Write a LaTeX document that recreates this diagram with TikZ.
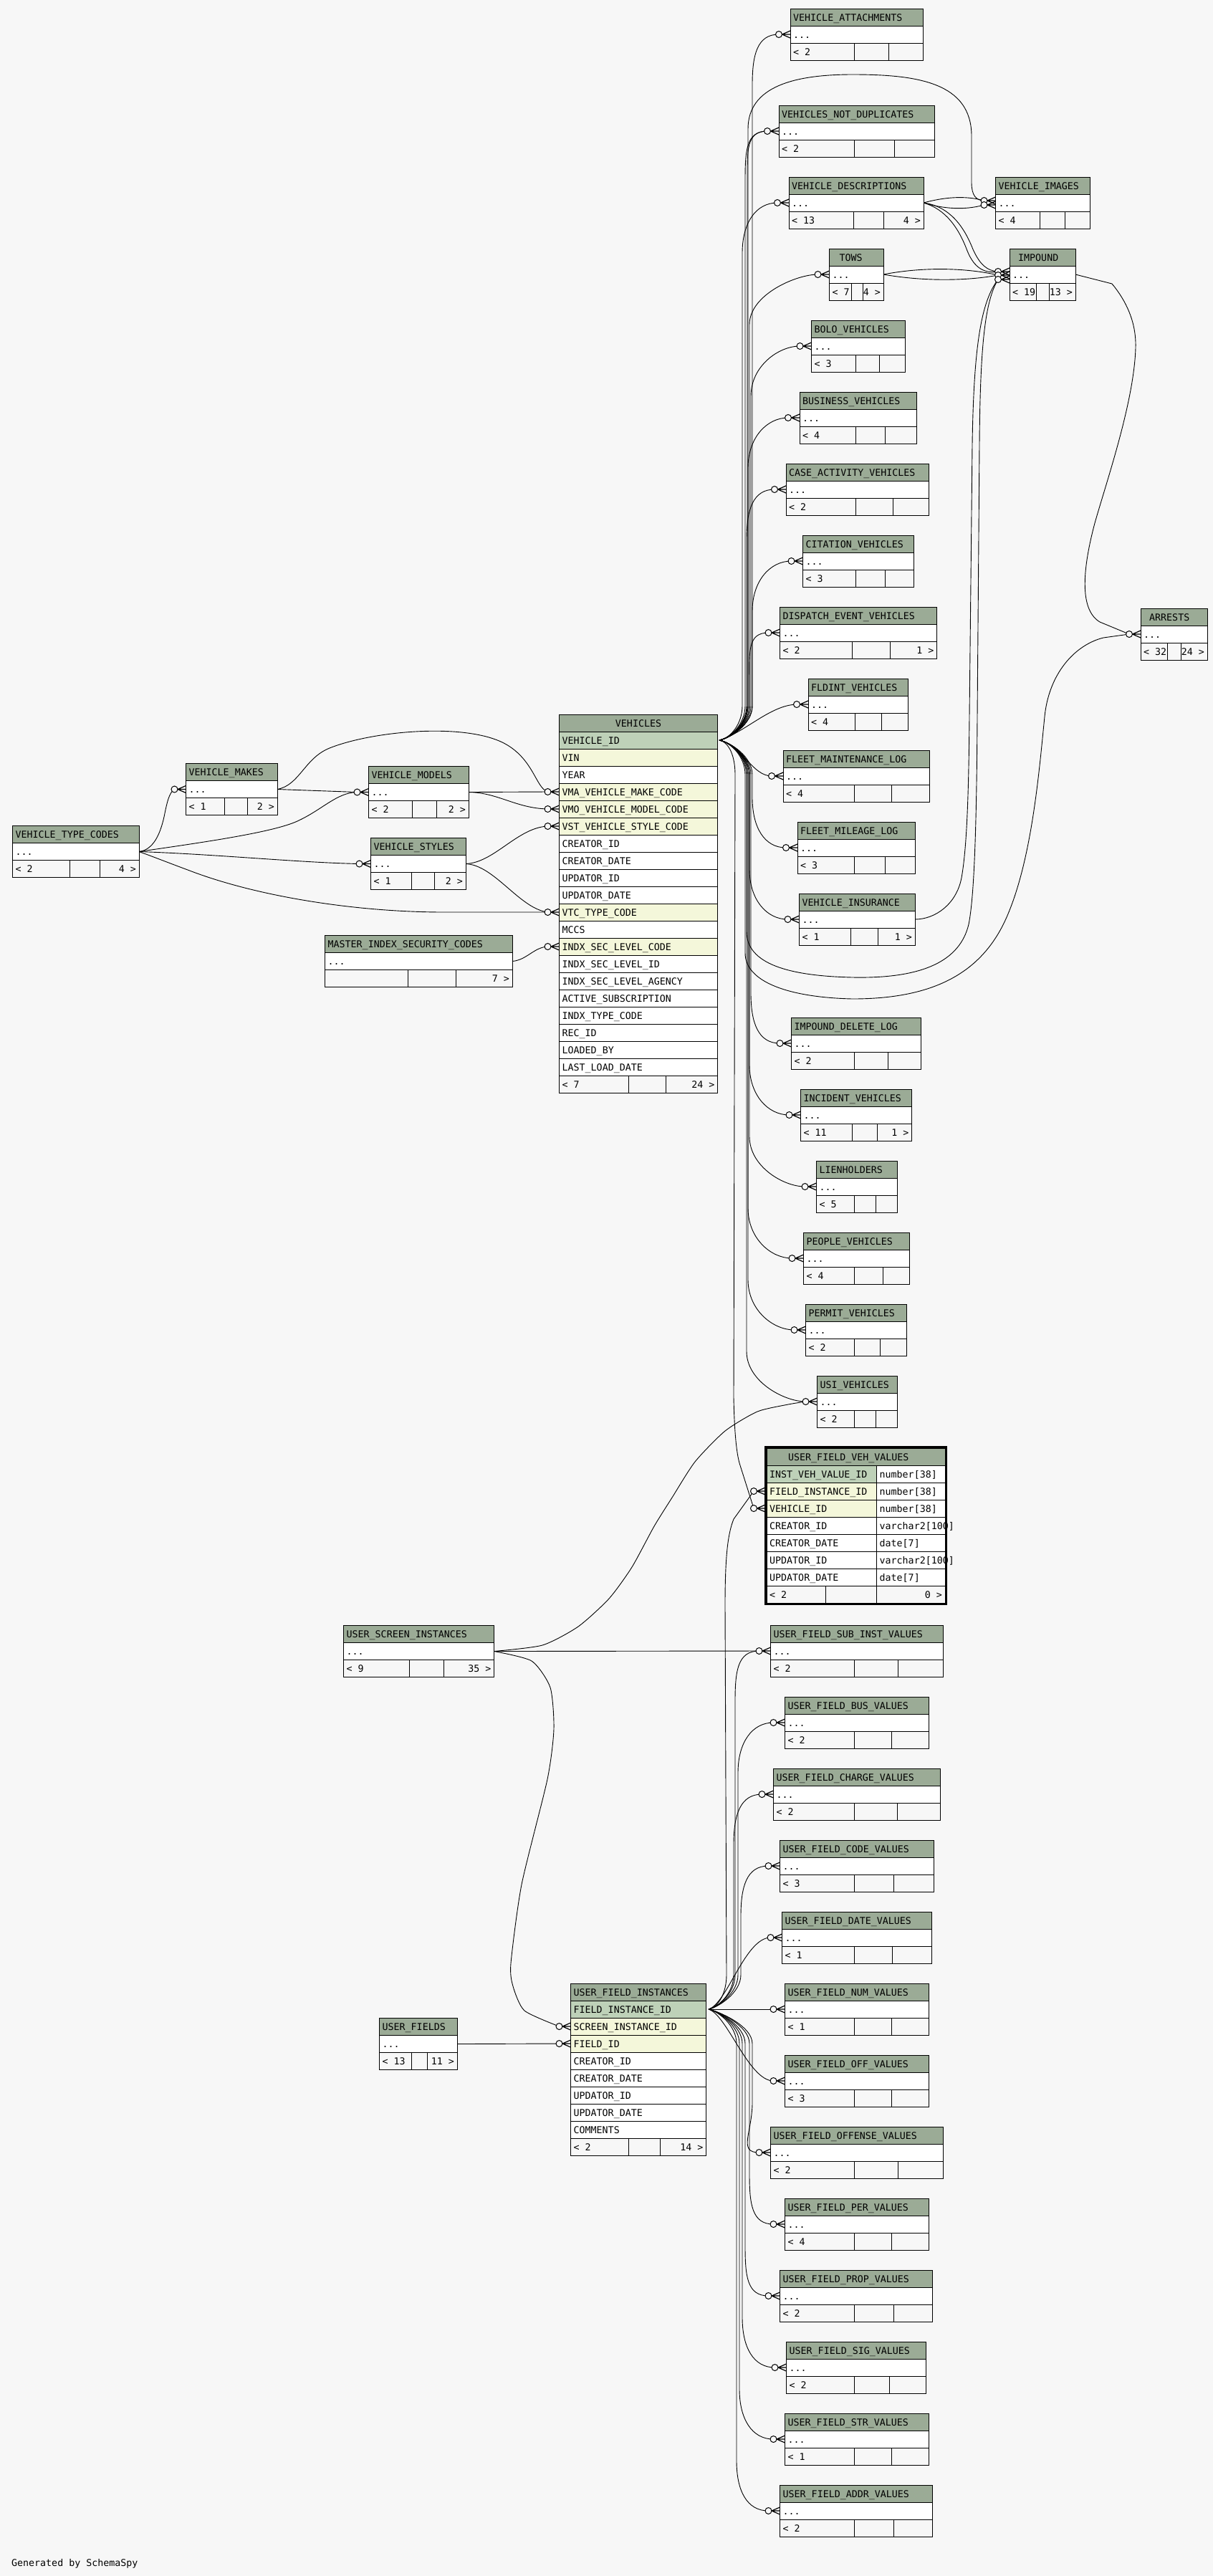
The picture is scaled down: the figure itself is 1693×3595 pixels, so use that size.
\documentclass[tikz,border=0pt]{standalone}
\usepackage{fontspec}
\usetikzlibrary{calc}
\newfontfamily\dvmono{DejaVu Sans Mono}
\newcommand\tabfnt{\dvmono\fontsize{13.3pt}{16pt}\selectfont}
\definecolor{bg}{HTML}{F7F7F7}
\definecolor{hdr}{HTML}{9BAB96}
\definecolor{pk}{HTML}{BED1B8}
\definecolor{idx}{HTML}{F4F7DA}
\pgfdeclarelayer{bglayer}
\pgfdeclarelayer{edgelayer}
\pgfsetlayers{bglayer,edgelayer,main}
\tikzset{
 cell/.style={anchor=base west, inner sep=0pt, font=\tabfnt},
 cellr/.style={anchor=base east, inner sep=0pt, font=\tabfnt},
 cellc/.style={anchor=base, inner sep=0pt, font=\tabfnt},
 box/.style={draw=black, line width=1pt},
 rel/.style={draw=black, line width=0.9pt},
 crowl/.style={draw=black, line width=1.2pt},
 ring/.style={draw=black, fill=bg, line width=1pt},
}
% name xl xr yt label d1 d2 footleft footright
\newcommand\smalltab[9]{%
 \path[box,fill=hdr] (#2,#4) rectangle (#3,{#4+24});
 \node[cell] (#1-h) at ({#2+4},{#4+17.3}) {#5};
 \path[box,fill=white] (#2,{#4+24}) rectangle (#3,{#4+48});
 \node[cell] (#1-r) at ({#2+4},{#4+41.3}) {...};
 \path[box,fill=bg] (#2,{#4+48}) rectangle (#3,{#4+72});
 \draw[box] (#6,{#4+48}) -- (#6,{#4+72}) (#7,{#4+48}) -- (#7,{#4+72});
 \node[cell] (#1-fl) at ({#2+4},{#4+65.3}) {#8};
 \node[cellr] (#1-fr) at ({#3-4},{#4+65.3}) {#9};
 \coordinate (#1-w) at (#2,{#4+36});
 \coordinate (#1-e) at (#3,{#4+36});
 \coordinate (#1-c) at ({#2-16},{#4+36});
}
\newcommand\crowmark[1]{%
 \draw[crowl] ($(#1-w)+(-11.5,0)$) -- ($(#1-w)+(0,-5)$)
   ($(#1-w)+(-11.5,0)$) -- (#1-w)
   ($(#1-w)+(-11.5,0)$) -- ($(#1-w)+(0,5)$);
 \draw[ring] ($(#1-w)+(-16,0)$) circle[radius=4.5pt];
}
\newcommand\vupedge[3]{\draw[rel] (veh-src) .. controls +(16,-3) and +(0,25) .. (#2,985) -- (#2,{#3+70}) .. controls +(0,-42) and +(-30,0) .. (#1-c);}
\newcommand\vdnedge[3]{\draw[rel] (veh-src) .. controls +(16,3) and +(0,-25) .. (#2,1081) -- (#2,{#3-70}) .. controls +(0,42) and +(-30,0) .. (#1-c);}
\newcommand\fupedge[3]{\draw[rel] (ufi-src) .. controls +(14,-3) and +(0,25) .. (#2,2756) -- (#2,{#3+70}) .. controls +(0,-42) and +(-30,0) .. (#1-c);}
\newcommand\fdnedge[3]{\draw[rel] (ufi-src) .. controls +(14,3) and +(0,-25) .. (#2,2852) -- (#2,{#3-70}) .. controls +(0,42) and +(-30,0) .. (#1-c);}
\begin{document}
\begin{tikzpicture}[x=1pt,y=-1pt]
\begin{pgfonlayer}{bglayer}
\path[fill=bg] (0,0) rectangle (1693,3595);
\end{pgfonlayer}
\path[use as bounding box] (0,0) rectangle (1693,3595);

% ---------- small tables ----------
\smalltab{vatt}{1103}{1288}{12}{VEHICLE\_ATTACHMENTS}{1192}{1240}{< 2}{}
\smalltab{vnd}{1087}{1304}{147}{VEHICLES\_NOT\_DUPLICATES}{1192}{1248}{< 2}{}
\smalltab{vdesc}{1101}{1289}{247}{VEHICLE\_DESCRIPTIONS}{1191.5}{1233}{< 13}{4 >}
\smalltab{vimg}{1389.5}{1521.5}{247}{VEHICLE\_IMAGES}{1451.5}{1486.5}{< 4}{}
\smalltab{tows}{1157.5}{1233}{347}{\hspace*{10pt}TOWS}{1188}{1204.5}{< 7}{4 >}
\smalltab{impound}{1409}{1501}{347}{\hspace*{8pt}IMPOUND}{1446.5}{1464}{< 19}{13 >}
\smalltab{bolo}{1132.5}{1263.5}{447}{BOLO\_VEHICLES}{1194}{1227.5}{< 3}{}
\smalltab{business}{1116}{1279.5}{547}{BUSINESS\_VEHICLES}{1194}{1235.5}{< 4}{}
\smalltab{case}{1097}{1296.5}{647}{CASE\_ACTIVITY\_VEHICLES}{1194}{1246}{< 2}{}
\smalltab{citation}{1120.5}{1275.5}{747}{CITATION\_VEHICLES}{1194}{1235}{< 3}{}
\smalltab{dispatch}{1088.5}{1307.5}{847}{DISPATCH\_EVENT\_VEHICLES}{1189.5}{1242}{< 2}{1 >}
\smalltab{fldint}{1128}{1267.5}{947}{FLDINT\_VEHICLES}{1193}{1230}{< 4}{}
\smalltab{fmaint}{1093}{1297.5}{1047}{FLEET\_MAINTENANCE\_LOG}{1192.5}{1244.5}{< 4}{}
\smalltab{fmile}{1113}{1277.5}{1147}{FLEET\_MILEAGE\_LOG}{1192.5}{1235.5}{< 3}{}
\smalltab{vins}{1115.5}{1277}{1247}{VEHICLE\_INSURANCE}{1187.5}{1225.5}{< 1}{1 >}
\smalltab{impdel}{1104.5}{1285.5}{1420}{IMPOUND\_DELETE\_LOG}{1192.5}{1239.5}{< 2}{}
\smalltab{incident}{1117.5}{1272.5}{1520}{INCIDENT\_VEHICLES}{1189.5}{1224.5}{< 11}{1 >}
\smalltab{lien}{1139.5}{1252}{1620}{LIENHOLDERS}{1192.5}{1222}{< 5}{}
\smalltab{people}{1121.5}{1269.5}{1720}{PEOPLE\_VEHICLES}{1192.5}{1232}{< 4}{}
\smalltab{permit}{1124.5}{1265.5}{1820}{PERMIT\_VEHICLES}{1192.5}{1228}{< 2}{}
\smalltab{usi}{1140.5}{1252}{1920}{USI\_VEHICLES}{1192.5}{1222}{< 2}{}
\smalltab{arrests}{1592}{1685}{849}{\hspace*{8pt}ARRESTS}{1629.5}{1648}{< 32}{24 >}

\smalltab{ufsub}{1075.5}{1316.5}{2268}{USER\_FIELD\_SUB\_INST\_VALUES}{1192.5}{1253.5}{< 2}{}
\smalltab{ufbus}{1095.5}{1296.5}{2368}{USER\_FIELD\_BUS\_VALUES}{1192.5}{1244.5}{< 2}{}
\smalltab{ufcharge}{1079.5}{1312.5}{2468}{USER\_FIELD\_CHARGE\_VALUES}{1192.5}{1252.5}{< 2}{}
\smalltab{ufcode}{1088.5}{1303.5}{2568}{USER\_FIELD\_CODE\_VALUES}{1192.5}{1247.5}{< 3}{}
\smalltab{ufdate}{1091.5}{1300.5}{2668}{USER\_FIELD\_DATE\_VALUES}{1192.5}{1245.5}{< 1}{}
\smalltab{ufnum}{1095.5}{1296.5}{2768}{USER\_FIELD\_NUM\_VALUES}{1192.5}{1244.5}{< 1}{}
\smalltab{ufoff}{1095.5}{1296.5}{2868}{USER\_FIELD\_OFF\_VALUES}{1192.5}{1244.5}{< 3}{}
\smalltab{ufoffense}{1075.5}{1316.5}{2968}{USER\_FIELD\_OFFENSE\_VALUES}{1192.5}{1253.5}{< 2}{}
\smalltab{ufper}{1095.5}{1296.5}{3068}{USER\_FIELD\_PER\_VALUES}{1192.5}{1244.5}{< 4}{}
\smalltab{ufprop}{1088.5}{1301.5}{3168}{USER\_FIELD\_PROP\_VALUES}{1192.5}{1247.5}{< 2}{}
\smalltab{ufsig}{1097.5}{1292.5}{3268}{USER\_FIELD\_SIG\_VALUES}{1192.5}{1241.5}{< 2}{}
\smalltab{ufstr}{1095.5}{1296.5}{3368}{USER\_FIELD\_STR\_VALUES}{1192.5}{1244.5}{< 1}{}
\smalltab{ufaddr}{1088.5}{1301.5}{3468}{USER\_FIELD\_ADDR\_VALUES}{1192.5}{1247.5}{< 2}{}

\smalltab{vtc}{17.5}{194}{1152.5}{VEHICLE\_TYPE\_CODES}{97.5}{139.5}{< 2}{4 >}
\smalltab{vmakes}{259.5}{387}{1065.5}{VEHICLE\_MAKES}{313.5}{345}{< 1}{2 >}
\smalltab{vmodels}{514.5}{654}{1069.5}{VEHICLE\_MODELS}{575.5}{609.5}{< 2}{2 >}
\smalltab{vstyles}{517.5}{650}{1169.5}{VEHICLE\_STYLES}{574.5}{606.5}{< 1}{2 >}
\smalltab{misc}{453.5}{715}{1305.5}{MASTER\_INDEX\_SECURITY\_CODES}{569.5}{636}{}{7 >}
\smalltab{uscr}{479.5}{689.5}{2268.5}{USER\_SCREEN\_INSTANCES}{571.5}{619.5}{< 9}{35 >}
\smalltab{ufields}{529.5}{638}{2816.5}{USER\_FIELDS}{574.5}{596}{< 13}{11 >}

% ---------- VEHICLES ----------
\path[box,fill=hdr] (780.5,997) rectangle (1001.5,1021);
\node[cellc] (veh-h) at (891,1014.3) {VEHICLES};
\foreach \rowtxt/\rowcol [count=\i] in {VEHICLE\_ID/pk,VIN/idx,YEAR/white,VMA\_VEHICLE\_MAKE\_CODE/idx,VMO\_VEHICLE\_MODEL\_CODE/idx,VST\_VEHICLE\_STYLE\_CODE/idx,CREATOR\_ID/white,CREATOR\_DATE/white,UPDATOR\_ID/white,UPDATOR\_DATE/white,VTC\_TYPE\_CODE/idx,MCCS/white,INDX\_SEC\_LEVEL\_CODE/idx,INDX\_SEC\_LEVEL\_ID/white,INDX\_SEC\_LEVEL\_AGENCY/white,ACTIVE\_SUBSCRIPTION/white,INDX\_TYPE\_CODE/white,REC\_ID/white,LOADED\_BY/white,LAST\_LOAD\_DATE/white}{
 \path[box,fill=\rowcol] (780.5,{997+24*\i}) rectangle (1001.5,{1021+24*\i});
 \node[cell] (veh-\i) at (784.5,{1014.3+24*\i}) {\rowtxt};
}
\path[box,fill=bg] (780.5,1501) rectangle (1001.5,1525);
\draw[box] (877.5,1501) -- (877.5,1525) (929.5,1501) -- (929.5,1525);
\node[cell] (veh-fl) at (784.5,1518.3) {< 7};
\node[cellr] (veh-fr) at (997.5,1518.3) {24 >};
\coordinate (veh-src) at (1004,1033);
\coordinate (vma-w) at (780.5,1105); \coordinate (vma-c) at (764.5,1105);
\coordinate (vmo-w) at (780.5,1129); \coordinate (vmo-c) at (764.5,1129);
\coordinate (vst-w) at (780.5,1153); \coordinate (vst-c) at (764.5,1153);
\coordinate (vtcc-w) at (780.5,1273); \coordinate (vtcc-c) at (764.5,1273);
\coordinate (indx-w) at (780.5,1321); \coordinate (indx-c) at (764.5,1321);

% ---------- USER_FIELD_INSTANCES ----------
\path[box,fill=hdr] (796.5,2768) rectangle (985.5,2792);
\node[cell] (ufi-h) at (800.5,2785.3) {USER\_FIELD\_INSTANCES};
\foreach \rowtxt/\rowcol [count=\i] in {FIELD\_INSTANCE\_ID/pk,SCREEN\_INSTANCE\_ID/idx,FIELD\_ID/idx,CREATOR\_ID/white,CREATOR\_DATE/white,UPDATOR\_ID/white,UPDATOR\_DATE/white,COMMENTS/white}{
 \path[box,fill=\rowcol] (796.5,{2768+24*\i}) rectangle (985.5,{2792+24*\i});
 \node[cell] (ufi-\i) at (800.5,{2785.3+24*\i}) {\rowtxt};
}
\path[box,fill=bg] (796.5,2984) rectangle (985.5,3008);
\draw[box] (877.5,2984) -- (877.5,3008) (921.5,2984) -- (921.5,3008);
\node[cell] (ufi-fl) at (800.5,3001.3) {< 2};
\node[cellr] (ufi-fr) at (981.5,3001.3) {14 >};
\coordinate (ufi-src) at (989,2804);
\coordinate (ufisc-w) at (796.5,2828); \coordinate (ufisc-c) at (780.5,2828);
\coordinate (ufifid-w) at (796.5,2852); \coordinate (ufifid-c) at (780.5,2852);

% ---------- USER_FIELD_VEH_VALUES ----------
\path[box,fill=hdr] (1070,2021) rectangle (1319,2045);
\node[cell] (ufvv-h) at (1100,2038.3) {USER\_FIELD\_VEH\_VALUES};
\foreach \rowtxt/\rowtyp/\rowcol [count=\i] in {INST\_VEH\_VALUE\_ID/number[38]/pk,FIELD\_INSTANCE\_ID/number[38]/idx,VEHICLE\_ID/number[38]/idx,CREATOR\_ID/varchar2[100]/white,CREATOR\_DATE/date[7]/white,UPDATOR\_ID/varchar2[100]/white,UPDATOR\_DATE/date[7]/white}{
 \path[box,fill=\rowcol] (1070,{2021+24*\i}) rectangle (1223.5,{2045+24*\i});
 \path[box,fill=white] (1223.5,{2021+24*\i}) rectangle (1319,{2045+24*\i});
 \node[cell] (ufvv-\i) at (1074,{2038.3+24*\i}) {\rowtxt};
 \node[cell] (ufvvt-\i) at (1227.5,{2038.3+24*\i}) {\rowtyp};
}
\path[box,fill=bg] (1070,2213) rectangle (1319,2237);
\draw[box] (1152.5,2213) -- (1152.5,2237) (1223.5,2213) -- (1223.5,2237);
\node[cell] (ufvv-fl) at (1074,2230.3) {< 2};
\node[cellr] (ufvv-fr) at (1315,2230.3) {0 >};
\draw[line width=3pt] (1068.5,2019.5) rectangle (1320.5,2238.5);
\coordinate (ufvvfi-w) at (1068,2081); \coordinate (ufvvfi-c) at (1052,2081);
\coordinate (ufvvveh-w) at (1068,2105); \coordinate (ufvvveh-c) at (1052,2105);

% multi-target points
\coordinate (imp1-w) at (1409,379); \coordinate (imp1-c) at (1393,379);
\coordinate (imp2-w) at (1409,384); \coordinate (imp2-c) at (1393,384);
\coordinate (imp3-w) at (1409,390); \coordinate (imp3-c) at (1393,390);
\coordinate (vimg1-w) at (1389.5,280); \coordinate (vimg1-c) at (1373.5,280);
\coordinate (vimg2-w) at (1389.5,286); \coordinate (vimg2-c) at (1373.5,286);

\node[cell] (gen) at (16,3581) {Generated by SchemaSpy};

% ---------- connectors ----------
\begin{pgfonlayer}{edgelayer}
\vupedge{vatt}{1050}{48}
\vupedge{vnd}{1040}{183}
\vupedge{vnd}{1043}{183}
\vupedge{vdesc}{1036}{283}
\vupedge{tows}{1046}{383}
\vupedge{bolo}{1048}{483}
\vupedge{business}{1044}{583}
\vupedge{case}{1042}{683}
\vupedge{citation}{1050}{783}
\vupedge{dispatch}{1046}{883}
\draw[rel] (veh-src) .. controls (1040,1022) and (1075,984) .. (fldint-c);
\draw[rel] (veh-src) .. controls (1035,1040) and (1050,1083) .. (fmaint-c);
\vdnedge{fmile}{1050}{1183}
\vdnedge{vins}{1046}{1283}
\vdnedge{impdel}{1048}{1456}
\vdnedge{incident}{1046}{1556}
\vdnedge{lien}{1046}{1656}
\vdnedge{people}{1044}{1756}
\vdnedge{permit}{1044}{1856}
\vdnedge{usi}{1042}{1956}
\draw[rel] (veh-src) .. controls +(16,-3) and +(0,25) .. (1044,985) -- (1044,180) .. controls (1044,120) and (1110,104) .. (1190,104) .. controls (1280,104) and (1356,115) .. (1356,190) -- (1356,255) .. controls (1356,272) and (1362,280) .. (vimg1-c);
\draw[rel] (veh-src) .. controls +(16,3) and +(0,-25) .. (1042,1081) -- (1042,1300) .. controls (1042,1345) and (1100,1362) .. (1190,1364) .. controls (1290,1366) and (1340,1340) .. (1352,1290) .. controls (1360,1250) and (1363,1150) .. (1364,1000) -- (1367,620) .. controls (1368,480) and (1375,420) .. (imp3-c);
\draw[rel] (veh-src) .. controls +(16,3) and +(0,-25) .. (1040,1081) -- (1040,1330) .. controls (1040,1370) and (1100,1392) .. (1190,1394) .. controls (1300,1394) and (1370,1360) .. (1405,1280) .. controls (1440,1200) and (1450,1080) .. (1458,1000) .. controls (1464,940) and (1500,900) .. (1540,890) -- (arrests-c);
\draw[rel] (veh-src) .. controls +(14,3) and +(0,-25) .. (1026,1081) -- (1024,1950) .. controls (1025,2000) and (1028,2030) .. (1033,2045) -- (ufvvveh-c);
\draw[rel] (vins-e) .. controls (1305,1283) and (1335,1262) .. (1342,1225) .. controls (1350,1180) and (1352,1100) .. (1353,1000) -- (1357,620) .. controls (1359,480) and (1370,420) .. (imp3-c);
\draw[rel] (impound-e) -- (1552,396) .. controls (1572,420) and (1586,450) .. (1585,485) .. controls (1583,560) and (1545,670) .. (1528,730) .. controls (1512,790) and (1505,850) .. (1535,868) -- (arrests-c);
\draw[rel] (vdesc-e) .. controls (1315,276) and (1345,272) .. (vimg1-c);
\draw[rel] (vdesc-e) .. controls (1315,291) and (1345,294) .. (vimg2-c);
\draw[rel] (vdesc-e) .. controls (1325,288) and (1345,315) .. (1358,348) .. controls (1368,370) and (1378,378) .. (imp1-c);
\draw[rel] (vdesc-e) .. controls (1320,292) and (1338,318) .. (1350,350) .. controls (1360,375) and (1375,382) .. (imp1-c);
\draw[rel] (tows-e) .. controls (1290,372) and (1350,374) .. (imp2-c);
\draw[rel] (tows-e) .. controls (1290,393) and (1350,392) .. (imp2-c);
% left side
\draw[rel] (vtc-e) .. controls (215,1186) and (224,1162) .. (229,1140) .. controls (233,1120) and (236,1106) .. (vmakes-c);
\draw[rel] (vtc-e) .. controls (280,1176) and (380,1162) .. (415,1146) .. controls (450,1130) and (470,1106) .. (vmodels-c);
\draw[rel] (vtc-e) .. controls (300,1192) and (420,1204) .. (vstyles-c);
\draw[rel] (vtc-e) .. controls (215,1196) and (235,1204) .. (262,1214) .. controls (360,1252) and (500,1273) .. (620,1273) -- (vtcc-c);
\draw[rel] (vmakes-e) -- (vmodels-c);
\draw[rel] (vmakes-e) .. controls (418,1096) and (425,1058) .. (460,1044) .. controls (520,1020) and (650,1008) .. (705,1038) .. controls (745,1060) and (748,1100) .. (vma-c);
\draw[rel] (vmodels-e) -- (vma-c);
\draw[rel] (vmodels-e) .. controls (695,1106) and (720,1128) .. (vmo-c);
\draw[rel] (vstyles-e) .. controls (690,1204) and (722,1155) .. (vst-c);
\draw[rel] (vstyles-e) .. controls (690,1207) and (725,1268) .. (vtcc-c);
\draw[rel] (misc-e) .. controls (735,1340) and (745,1322) .. (indx-c);
% user fields
\draw[rel] (ufields-e) -- (ufifid-c);
\draw[rel] (uscr-e) -- (ufsub-c);
\draw[rel] plot[smooth,tension=0.4] coordinates {(uscr-e) (742,2318) (768,2355) (773,2413) (764,2483) (728,2630) (713,2740) (716,2772) (732,2806) (ufisc-c)};
\draw[rel] plot[smooth,tension=0.4] coordinates {(uscr-e) (757,2296) (807,2270) (850,2231) (882,2187) (913,2130) (938,2090) (970,2040) (1012,1997) (1057,1970) (1100,1960) (usi-c)};
\draw[rel] (ufi-src) -- (ufnum-c);
\draw[rel] (ufi-src) .. controls (1015,2796) and (1040,2704) .. (ufdate-c);
\fupedge{ufcode}{1034}{2604}
\fupedge{ufcharge}{1024}{2504}
\fupedge{ufbus}{1030}{2404}
\fupedge{ufsub}{1026}{2304}
\draw[rel] (ufi-src) .. controls +(14,-3) and +(0,25) .. (1014,2756) -- (1012,2240) .. controls (1012,2170) and (1016,2140) .. (1024,2120) -- (ufvvfi-c);
\draw[rel] (ufi-src) .. controls (1015,2812) and (1045,2904) .. (ufoff-c);
\fdnedge{ufoffense}{1050}{3004}
\fdnedge{ufper}{1046}{3104}
\fdnedge{ufprop}{1040}{3204}
\fdnedge{ufsig}{1036}{3304}
\fdnedge{ufstr}{1032}{3404}
\fdnedge{ufaddr}{1028}{3504}
\end{pgfonlayer}

% ---------- end markers ----------
\foreach \m in {vatt,vnd,vdesc,tows,bolo,business,case,citation,dispatch,fldint,fmaint,fmile,vins,impdel,incident,lien,people,permit,usi,arrests,vmakes,vmodels,vstyles,ufsub,ufbus,ufcharge,ufcode,ufdate,ufnum,ufoff,ufoffense,ufper,ufprop,ufsig,ufstr,ufaddr,imp1,imp2,imp3,vimg1,vimg2,vma,vmo,vst,vtcc,indx,ufisc,ufifid,ufvvfi,ufvvveh}{\crowmark{\m}}
\end{tikzpicture}
\end{document}
